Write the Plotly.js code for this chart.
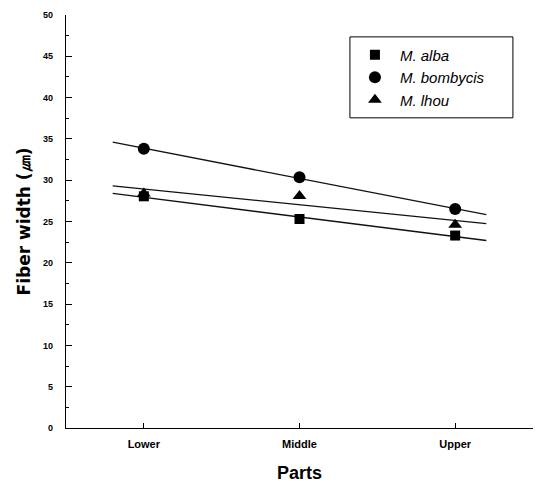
<!DOCTYPE html>
<html>
<head>
<meta charset="utf-8">
<script src="https://cdn.plot.ly/plotly-3.0.1.min.js"></script>
<style>html,body{margin:0;padding:0;background:#fff;}#chart{width:539px;height:483px;}</style>
</head>
<body>
<div id="chart"></div>
<script>
const categories = ["Lower", "Middle", "Upper"];
const seriesNames = ["M. alba", "M. bombycis", "M. lhou"];
const albaValues = [28.05, 25.3, 23.3];
const bombycisValues = [33.8, 30.35, 26.5];
const lhouValues = [28.4, 28.1, 24.6];
const yTickVals = [0, 5, 10, 15, 20, 25, 30, 35, 40, 45, 50];

const symbols = ["square", "circle", "triangle-up"];
const sizes = [10, 12, 12];
const allValues = [albaValues, bombycisValues, lhouValues];
const xIdx = categories.map((c, i) => i);
const ext = 0.2;

function fit(ys) {
  const n = ys.length;
  const mx = xIdx.reduce((a, b) => a + b, 0) / n;
  const my = ys.reduce((a, b) => a + b, 0) / n;
  let sxy = 0, sxx = 0;
  for (let i = 0; i < n; i++) { sxy += (xIdx[i] - mx) * (ys[i] - my); sxx += (xIdx[i] - mx) ** 2; }
  const b = sxy / sxx, a = my - b * mx;
  const x0 = xIdx[0] - ext, x1 = xIdx[n - 1] + ext;
  return { x: [x0, x1], y: [a + b * x0, a + b * x1] };
}

const traces = [];
allValues.forEach((ys, k) => {
  const f = fit(ys);
  traces.push({ x: f.x, y: f.y, mode: "lines", line: { color: "#111", width: 1.3 }, showlegend: false, hoverinfo: "skip" });
});
allValues.forEach((ys, k) => {
  traces.push({ x: xIdx, y: ys, mode: "markers", name: "<i>" + seriesNames[k] + "</i>",
    marker: { symbol: symbols[k], size: sizes[k], color: "#000" } });
});

const layout = {
  width: 539, height: 483,
  margin: { l: 66, r: 6, t: 15, b: 55 },
  paper_bgcolor: "#fff", plot_bgcolor: "#fff",
  font: { family: "Liberation Sans, Arial, sans-serif", color: "#000" },
  showlegend: true,
  legend: {
    x: 0.608, y: 0.943, xanchor: "left", yanchor: "top",
    borderwidth: 0, bgcolor: "rgba(0,0,0,0)",
    font: { size: 15, color: "#000" },
    itemwidth: 40,
    traceorder: "normal"
  },
  shapes: [{
    type: "rect", xref: "paper", yref: "paper",
    x0: 0.608, x1: 0.957, y0: 0.751, y1: 0.947,
    line: { color: "#000", width: 1 }, fillcolor: "rgba(0,0,0,0)", layer: "above"
  }],
  xaxis: {
    range: [-0.5, 2.5], tickvals: xIdx, ticktext: categories,
    showgrid: false, zeroline: false, showline: true, linecolor: "#000", linewidth: 1.2,
    ticks: "inside", ticklen: 5, tickcolor: "#000",
    tickfont: { size: 11, weight: "bold" },
    ticklabelstandoff: 6,
    title: { text: "<b>Parts</b>", font: { size: 18 }, standoff: 17 }
  },
  yaxis: {
    range: [0, 50], tickvals: yTickVals,
    showgrid: false, zeroline: false, showline: true, linecolor: "#000", linewidth: 1.2,
    ticks: "inside", ticklen: 6, tickcolor: "#000",
    minor: { dtick: 2.5, ticks: "inside", ticklen: 3, tickcolor: "#000" },
    tickfont: { size: 9, weight: "bold" },
    ticklabelstandoff: 10,
    title: { text: "<b>Fiber width (㎛)</b>", font: { size: 17, family: "DejaVu Sans, sans-serif" }, standoff: 8 }
  }
};

Plotly.newPlot("chart", traces, layout, { displayModeBar: false, staticPlot: true });
</script>
</body>
</html>
